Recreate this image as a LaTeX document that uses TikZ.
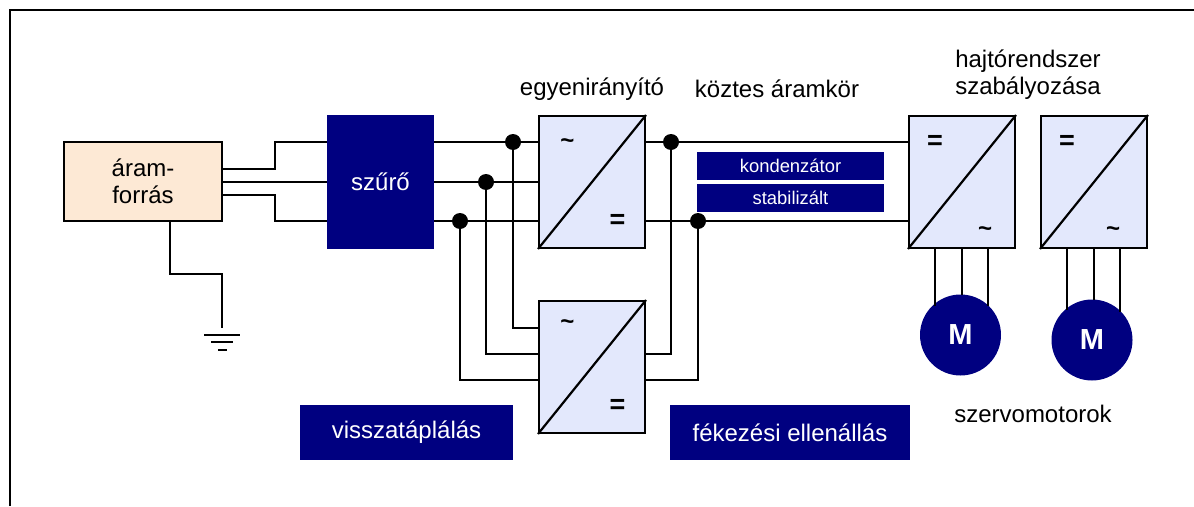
\documentclass[tikz,border=0pt]{standalone}
\usepackage{fontspec}
\setmainfont{Liberation Sans}
\definecolor{navy}{HTML}{000080}
\definecolor{conv}{HTML}{E3E8FC}
\definecolor{src}{HTML}{FDE9D5}
\tikzset{
  x=1pt,y=-1pt,
  wire/.style={draw=black,line width=1.9pt},
  convbox/.style={draw=black,line width=2pt,fill=conv,minimum width=106pt,minimum height=132pt,inner sep=0pt},
  bluebox/.style={fill=navy,draw=none,text=white,inner sep=0pt,align=center},
  dotj/.style={circle,fill=black,minimum size=16pt,inner sep=0pt},
  lbl/.style={inner sep=0pt,font=\fontsize{24}{27}\selectfont,align=center},
  tildemark/.style={inner sep=0pt,font=\bfseries\fontsize{24}{24}\selectfont},
  eqmark/.style={inner sep=0pt,font=\bfseries\fontsize{27}{27}\selectfont},
  motor/.style={circle,fill=navy,text=white,minimum size=81pt,inner sep=0pt,font=\bfseries\fontsize{29}{29}\selectfont},
}
\begin{document}
\begin{tikzpicture}
\useasboundingbox (0,0) rectangle (1194,506);
\draw[line width=1.9pt] (10,506) -- (10,10) -- (1194,10);

\coordinate (g1) at (170,274);
\coordinate (g2) at (222,274);
\coordinate (g3) at (222,328);
\node[draw=black,line width=2pt,fill=src,minimum width=158pt,minimum height=79pt,inner sep=0pt,lbl] (source) at (143,181.5) {\raisebox{-1pt}{áram-}\\\raisebox{-1pt}{forrás}};
\node[bluebox,minimum width=107pt,minimum height=134pt,font=\fontsize{24}{27}\selectfont] (filter) at (380.5,182) {\raisebox{1pt}{szűrő}};
\node[convbox] (c1) at (592,182) {};
\node[convbox] (c2) at (592,367) {};
\node[convbox] (c3) at (962,182) {};
\node[convbox] (c4) at (1094,182) {};

\coordinate (s1) at (222,169);
\coordinate (s2) at (222,182);
\coordinate (s3) at (222,195);
\coordinate (k1) at (275,142);
\coordinate (k3) at (275,221);
\node[dotj] (d1) at (513,142) {};
\node[dotj] (d2) at (486,182) {};
\node[dotj] (d3) at (460,221) {};
\node[dotj] (d4) at (671,142) {};
\node[dotj] (d5) at (698,221) {};
\coordinate (f1) at (434,142);
\coordinate (f2) at (434,182);
\coordinate (f3) at (434,221);
\coordinate (ci1) at (539,142);
\coordinate (ci2) at (539,182);
\coordinate (ci3) at (539,221);
\coordinate (co1) at (645,142);
\coordinate (co3) at (645,221);
\coordinate (mi1) at (909,142);
\coordinate (mi3) at (909,221);
\coordinate (bi1) at (539,328);
\coordinate (bi2) at (539,354);
\coordinate (bi3) at (539,380);
\coordinate (bo1) at (645,354);
\coordinate (bo2) at (645,380);

\draw[wire] (s1) -| (k1) -- (k1 -| filter.west);
\draw[wire] (s2) -- (s2 -| filter.west);
\draw[wire] (s3) -| (k3) -- (k3 -| filter.west);
\draw[wire] (source.south -| g1) -- (g1) -- (g2) -- (g3);
\draw[wire] (f1) -- (ci1);
\draw[wire] (f2) -- (ci2);
\draw[wire] (f3) -- (ci3);
\draw[wire] (co1) -- (mi1);
\draw[wire] (co3) -- (mi3);
\draw[wire] (d1) |- (bi1);
\draw[wire] (d2) |- (bi2);
\draw[wire] (d3) |- (bi3);
\draw[wire] (bo1) -| (d4);
\draw[wire] (bo2) -| (d5);

\coordinate (e1a) at (204,335); \coordinate (e1b) at (240,335);
\coordinate (e2a) at (211,342); \coordinate (e2b) at (233,342);
\coordinate (e3a) at (218,350); \coordinate (e3b) at (227,350);
\draw[line width=2pt] (e1a) -- (e1b) (e2a) -- (e2b) (e3a) -- (e3b);

\node[motor] (m1) at (960.5,335) {\raisebox{1pt}{M}};
\node[motor] (m2) at (1092,340) {\raisebox{1pt}{M}};
\draw[wire] (935,248) -- (935,306);
\draw[wire] (962,248) -- (962,295);
\draw[wire] (988,248) -- (988,306);
\draw[wire] (1067,248) -- (1067,310);
\draw[wire] (1094,248) -- (1094,300);
\draw[wire] (1120,248) -- (1120,312);

\foreach \c in {c1,c2,c3,c4} \draw[line width=2.2pt] (\c.south west) -- (\c.north east);

\node[tildemark] at (567.5,144) {\char`\~};
\node[eqmark] at (617.5,221) {=};
\node[tildemark] at (567.5,325) {\char`\~};
\node[eqmark] at (617.5,406) {=};
\node[eqmark] at (935,142) {=};
\node[tildemark] at (985,232) {\char`\~};
\node[eqmark] at (1067,142) {=};
\node[tildemark] at (1113,232) {\char`\~};

\node[bluebox,minimum width=187pt,minimum height=28pt,font=\fontsize{18.4}{22}\selectfont] (kond) at (790.5,166) {kondenzátor};
\node[bluebox,minimum width=187pt,minimum height=28pt,font=\fontsize{18.4}{22}\selectfont] (stab) at (790.5,198) {stabilizált};
\node[bluebox,minimum width=213pt,minimum height=55pt,font=\fontsize{24}{27}\selectfont] (vissza) at (406.5,432.5) {\raisebox{-1pt}{visszatáplálás}};
\node[bluebox,minimum width=240pt,minimum height=55pt,font=\fontsize{24}{27}\selectfont] (fek) at (790,432.5) {\raisebox{-1pt}{fékezési ellenállás}};

\node[lbl] (t1) at (592,89) {egyenirányító};
\node[lbl] (t2) at (777,89) {köztes áramkör};
\node[lbl] (t3) at (1028,75) {hajtórendszer\\szabályozása};
\node[lbl] (t4) at (1033,414) {szervomotorok};
\end{tikzpicture}
\end{document}
